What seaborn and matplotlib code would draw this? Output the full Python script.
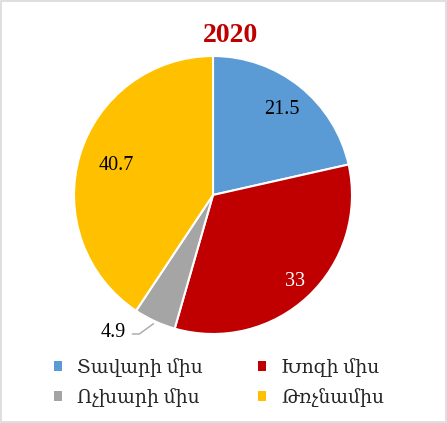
import matplotlib
matplotlib.use("Agg")
import matplotlib.pyplot as plt
import seaborn as sns
import numpy as np
from matplotlib.patches import Rectangle

sns.set_theme(style="white")
plt.rcParams['font.family'] = ['Liberation Serif', 'DejaVu Serif']

categories = ["Տավարի միս", "Խոզի միս", "Ոչխարի միս", "Թռչնամիս"]
values = [21.5, 33, 4.9, 40.7]
value_labels = ["21.5", "33", "4.9", "40.7"]
colors = ["#5B9BD5", "#C00000", "#A5A5A5", "#FFC000"]
title = "2020"

fig = plt.figure(figsize=(4.47, 4.23), dpi=100)
fig.patches.append(Rectangle((0.002, 0.002), 0.996, 0.996, transform=fig.transFigure,
                             fill=False, edgecolor="#D9D9D9", linewidth=1.2))

cx, cy, r = 213 / 447, 1 - 195 / 423, 139
ax = fig.add_axes([cx - r / 447, cy - r / 423, 2 * r / 447, 2 * r / 423])
wedges, _ = ax.pie(values, colors=colors, startangle=90, counterclock=False,
                   wedgeprops=dict(edgecolor="white", linewidth=1.5))
ax.set_aspect("equal")
ax.set_xlim(-1, 1)
ax.set_ylim(-1, 1)

dists = [0.79, 0.86, None, 0.73]
txtcolors = ["black", "white", "black", "black"]
for w, lab, d, tc in zip(wedges, value_labels, dists, txtcolors):
    ang = np.deg2rad((w.theta1 + w.theta2) / 2)
    if d is None:
        x0, y0 = 1.02 * np.cos(ang), 1.02 * np.sin(ang)
        ax.plot([x0, -0.53, -0.58], [y0, -1.0, -1.0], color="#A6A6A6", lw=1,
                clip_on=False)
        ax.text(-0.72, -0.99, lab, ha="center", va="center", fontsize=14.5,
                color=tc)
    else:
        ax.text(d * np.cos(ang), d * np.sin(ang), lab, ha="center",
                va="center", fontsize=14.5, color=tc)

fig.text(230 / 447, 1 - 35 / 423, title, ha="center", va="center",
         fontsize=20, fontweight="bold", color="#C00000")

order = [0, 2, 1, 3]
leg = fig.legend([wedges[i] for i in order], [categories[i] for i in order],
                 loc="upper left", ncol=2,
                 bbox_to_anchor=(54 / 447, 1 - 358 / 423), frameon=False,
                 fontsize=13.5, handlelength=0.45, handleheight=0.45,
                 columnspacing=2.9, labelspacing=0.6, handletextpad=0.8,
                 borderpad=0, borderaxespad=0)
for h in leg.legend_handles:
    h.set_edgecolor("none")

fig.savefig("out.png", dpi=100)
